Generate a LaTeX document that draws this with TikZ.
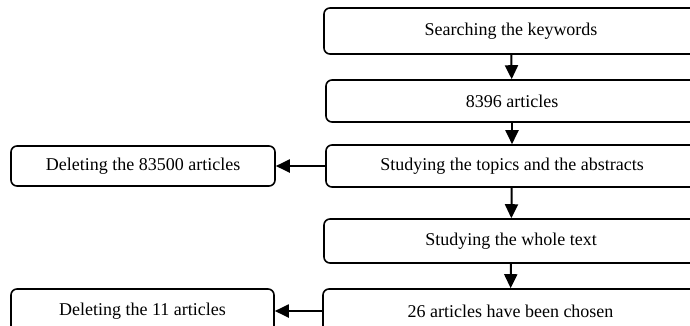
\documentclass[tikz,border=0pt]{standalone}
\usepackage{fontspec}
\setmainfont{Liberation Serif}
\usetikzlibrary{arrows.meta}
\begin{document}
\begin{tikzpicture}[x=1pt,y=-1pt,
  box/.style={draw,line width=1.6pt,rounded corners=6pt,font=\fontsize{18}{20}\selectfont,inner sep=0pt},
  arr/.style={line width=2pt,-{Triangle[length=14pt,width=13pt]}}]
\useasboundingbox (0,0) rectangle (690,325);
\node[box,minimum width=374pt,minimum height=46pt] (b1) at (511,31) {Searching the keywords};
\node[box,minimum width=372pt,minimum height=42pt] (b2) at (512,101) {8396 articles};
\node[box,minimum width=372pt,minimum height=42pt] (b3) at (512,166) {Studying the topics and the abstracts};
\node[box,minimum width=374pt,minimum height=44pt] (b4) at (511,241) {Studying the whole text};
\node[box,minimum width=375pt,minimum height=44pt] (b5) at (510.5,311) {26 articles have been chosen};
\node[box,minimum width=264pt,minimum height=40pt] (d1) at (143,166) {Deleting the 83500 articles};
\node[box,minimum width=263pt,minimum height=44pt] (d2) at (142.5,311) {Deleting the 11 articles};
\draw[arr] (b1) -- (b2);
\draw[arr] (b2) -- (b3);
\draw[arr] (b3) -- (b4);
\draw[arr] (b4) -- (b5);
\draw[arr] (b3) -- (d1);
\draw[arr] (b5) -- (d2);
\end{tikzpicture}
\end{document}
